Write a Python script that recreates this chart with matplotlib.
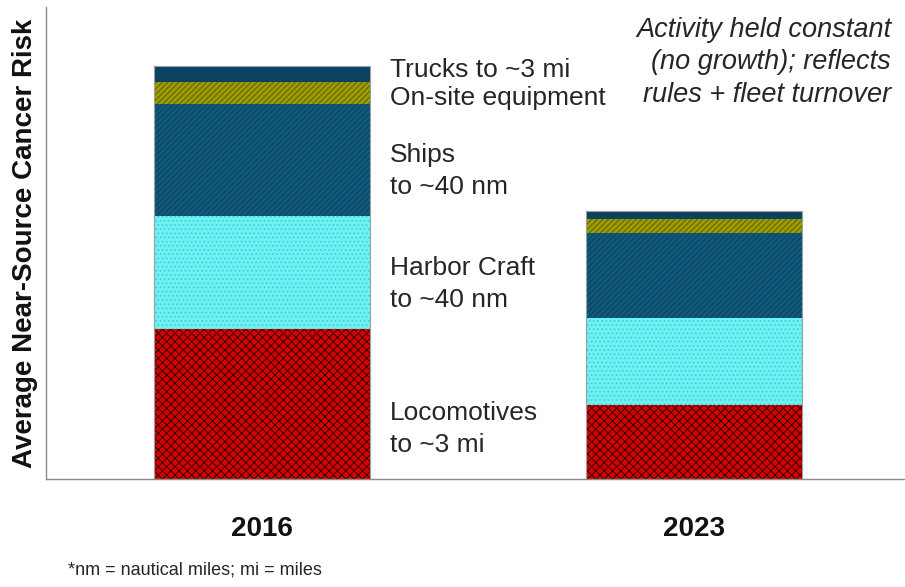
import matplotlib
matplotlib.use("Agg")
import matplotlib.pyplot as plt
import numpy as np

plt.rcParams['font.family'] = ['Liberation Sans', 'DejaVu Sans']

years = ["2016", "2023"]
categories = ["Locomotives", "Harbor Craft", "Ships", "On-site equipment", "Trucks"]
locomotives = [31.8, 15.7]
harbor_craft = [23.9, 18.4]
ships = [23.7, 18.0]
onsite = [4.7, 3.0]
trucks = [3.4, 1.7]
series = [locomotives, harbor_craft, ships, onsite, trucks]

faces = ["#d40000", "#6cf2f2", "#0f5a7c", "#9c9c00", "#0b4260"]
hatches = ["xxxx", "....", "//////", "//////", ""]
hatchcols = ["#200000", "#40c8d0", "#0a3c55", "#555500", "#0b4260"]

TXT = '#262626'

fig = plt.figure(figsize=(9.05, 5.87), dpi=100)
ax = fig.add_axes([46/905, 1-479/587, 1-46/905, 472/587])

plt.rcParams['hatch.linewidth'] = 0.6
x = np.arange(len(years))
bottom = np.zeros(len(years))
for vals, fc, h, hc in zip(series, faces, hatches, hatchcols):
    vals = np.array(vals)
    ax.bar(x, vals, 0.5, bottom=bottom, color=fc, linewidth=0)
    if h:
        ax.bar(x, vals, 0.5, bottom=bottom, facecolor='none', edgecolor=hc, hatch=h, linewidth=0)
    bottom += vals
ax.bar(x, bottom, 0.5, facecolor='none', edgecolor='#9aa0a6', linewidth=0.8)

ax.set_xlim(-0.5, (905-262)/432)
ax.set_ylim(0, 100)
ax.set_yticks([])
ax.set_xticks(x)
ax.set_xticklabels(years, fontsize=20, fontweight='bold', color='#111111')
ax.tick_params(axis='x', length=0, pad=27)
for s in ['top', 'right']:
    ax.spines[s].set_visible(False)
for s in ['left', 'bottom']:
    ax.spines[s].set_color('#8a8a8a')
    ax.spines[s].set_linewidth(1.0)

ax.set_ylabel("Average Near-Source Cancer Risk", fontsize=20, fontweight='bold',
              labelpad=6, color='#111111')

fs = 19
label_lines = [("Trucks to ~3 mi", 70), ("On-site equipment", 98),
               ("Ships", 155), ("to ~40 nm", 187),
               ("Harbor Craft", 268), ("to ~40 nm", 300),
               ("Locomotives", 413), ("to ~3 mi", 445)]
for t, py in label_lines:
    fig.text(390/905, 1-py/587, t, fontsize=fs, va='center', ha='left', color=TXT)

for t, py in [("Activity held constant", 30), ("(no growth); reflects", 62),
              ("rules + fleet turnover", 95)]:
    fig.text(891/905, 1-py/587, t, fontsize=19.5, style='italic', ha='right',
             va='center', color=TXT)

fig.text(68/905, 1-570/587, "*nm = nautical miles; mi = miles", fontsize=13,
         ha='left', va='center', color=TXT)

fig.savefig("out.png", dpi=100)
